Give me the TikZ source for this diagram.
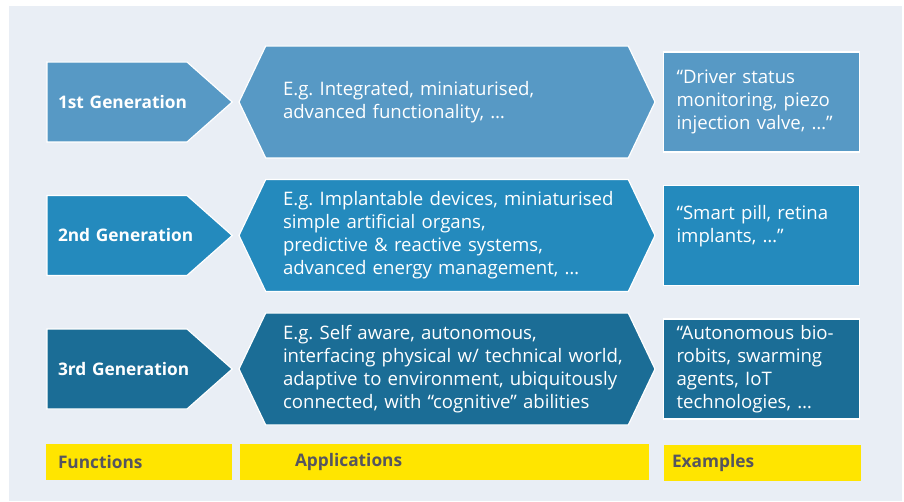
\documentclass[tikz,border=0pt]{standalone}
\usepackage{fontspec}
\setmainfont{Open Sans}
\usepackage{tikz}
\usetikzlibrary{shapes.symbols}
\frenchspacing
\definecolor{bgpanel}{HTML}{E9EEF5}
\definecolor{rowone}{HTML}{5799C5}
\definecolor{rowtwo}{HTML}{248ABD}
\definecolor{rowthree}{HTML}{1B6D96}
\definecolor{barfill}{HTML}{FFE500}
\definecolor{bartext}{HTML}{55555F}
\tikzstyle{genarrow} = [signal, signal to=east, signal pointer angle=83, minimum width=185pt, minimum height=80pt, draw=white, line width=1.2pt, text=white, font=\fontsize{17.3}{22}\selectfont\bfseries, text width=140pt, align=left, inner sep=0pt, execute at begin node={\leftskip=11pt}]
\tikzstyle{apphex} = [signal, signal to=east and west, signal pointer angle=129, minimum width=416pt, minimum height=112pt, draw=white, line width=1.2pt, text=white, font=\fontsize{18.6}{23}\selectfont, text width=360pt, align=left, inner sep=0pt, execute at begin node={\leftskip=16pt}]
\tikzstyle{exbox} = [rectangle, minimum width=196pt, minimum height=100pt, draw=white, line width=1.2pt, text=white, font=\fontsize{18.6}{23}\selectfont, text width=170pt, align=left, inner sep=0pt]
\tikzstyle{bar} = [rectangle, fill=barfill, minimum height=36pt, text=bartext, font=\fontsize{17.3}{20}\selectfont\bfseries, align=left, inner sep=0pt]

\begin{document}
\begin{tikzpicture}[x=1pt, y=-1pt, node distance=133.5pt]
\useasboundingbox (0,0) rectangle (904,502);
\fill[bgpanel] (9,6) rectangle (902,501);

\node (gen1) [genarrow, fill=rowone] at (117,102) {\mbox{1st Generation}};
\node (gen2) [genarrow, fill=rowtwo, below of=gen1] {\mbox{2nd Generation}};
\node (gen3) [genarrow, fill=rowthree, below of=gen2] {\mbox{3rd Generation}};

\node (app1) [apphex, fill=rowone, right of=gen1, xshift=196.5pt] {E.g. Integrated, miniaturised,\\ advanced functionality, \dots};
\node (app2) [apphex, fill=rowtwo, right of=gen2, xshift=196.5pt] {E.g. Implantable devices, miniaturised\\ simple artificial organs,\\ predictive \& reactive systems,\\ advanced energy management, \dots};
\node (app3) [apphex, fill=rowthree, right of=gen3, xshift=196.5pt] {E.g. Self aware, autonomous,\\ interfacing physical w/ technical world,\\ adaptive to environment, ubiquitously\\ connected, with “cognitive” abilities};

\node (ex1) [exbox, fill=rowone, right of=app1, xshift=181pt] {“Driver status\\ monitoring, piezo\\ injection valve, \dots”};
\node (ex2) [exbox, fill=rowtwo, right of=app2, xshift=181pt] {“Smart pill, retina\\ implants, \dots”\\ \mbox{}};
\node (ex3) [exbox, fill=rowthree, right of=app3, xshift=181pt] {“Autonomous bio-\\ robits, swarming\\ agents, IoT\\ technologies, \dots};

% labels along the bottom
\node (funcs) [bar, minimum width=186pt, text width=162pt] at (139,462) {Functions};
\node (apps) [bar, minimum width=409pt, text width=299pt] at (444.5,462) {Applications};
\node (exs) [bar, minimum width=197pt, text width=181pt] at (762.5,463) {Examples};
\end{tikzpicture}
\end{document}
